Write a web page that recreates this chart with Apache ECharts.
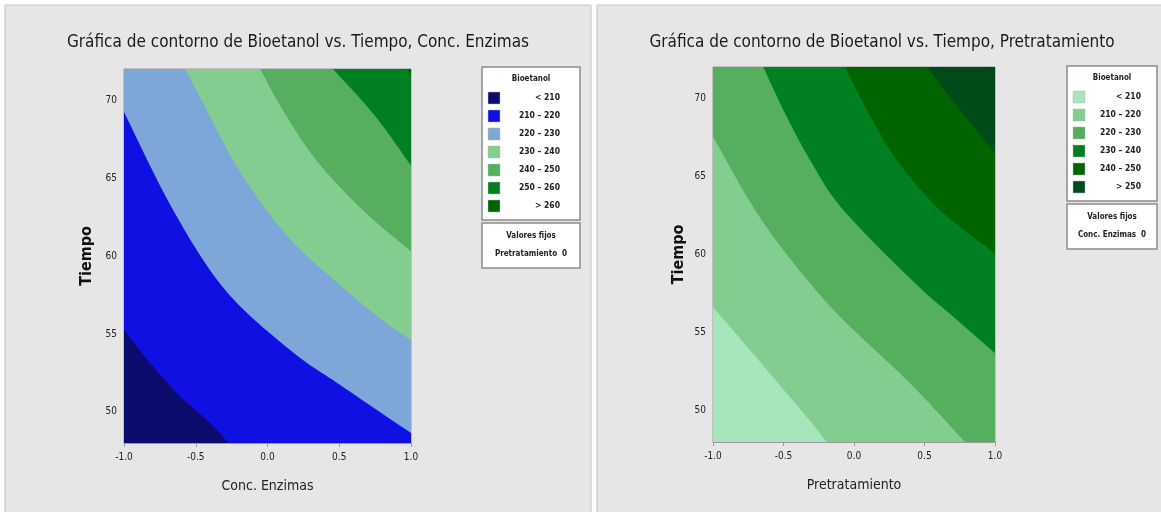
<!DOCTYPE html>
<html>
<head>
<meta charset="utf-8">
<script src="https://cdn.jsdelivr.net/npm/echarts@6/dist/echarts.min.js"></script>
<style>
  html, body { margin: 0; padding: 0; background: #ffffff; }
  #chart { width: 1161px; height: 512px; }
</style>
</head>
<body>
<div id="chart"></div>
<script>
// Contour plots of Bioetanol: response bands bounded by contour lines (x, Tiempo)
const titles = [
  'Gráfica de contorno de Bioetanol vs. Tiempo, Conc. Enzimas',
  'Gráfica de contorno de Bioetanol vs. Tiempo, Pretratamiento'
];
const xNames = ['Conc. Enzimas', 'Pretratamiento'];
const yName = 'Tiempo';
const xTicks = [-1, -0.5, 0, 0.5, 1];
const yTicks = [50, 55, 60, 65, 70];
const xRange = [-1, 1];
const yRange = [48, 72];

// Left panel: contour lines 210 … 260 (Pretratamiento held at 0)
const leftLevels = ['< 210', '210 – 220', '220 – 230', '230 – 240', '240 – 250', '250 – 260', '> 260'];
const left210 = [[-1, 55.25], [-0.853, 53.52], [-0.633, 51.21], [-0.4, 49.29], [-0.272, 48]];
const left220 = [[-1, 69.24], [-0.658, 62.95], [-0.295, 57.82], [0.158, 53.96], [0.507, 51.72], [1, 48.64]];
const left230 = [[-0.574, 72], [-0.42, 69.3], [-0.237, 66.1], [-0.005, 62.9], [0.275, 60.0], [0.763, 56.15], [1, 54.6]];
const left240 = [[-0.051, 72], [0.111, 69.3], [0.344, 66.1], [0.669, 62.9], [1, 60.3]];
const left250 = [[0.456, 72], [0.744, 69.05], [1, 65.8]];
const left260 = [[0.97, 72], [1, 71.6]];
const leftFixed = ['Valores fijos', 'Pretratamiento  0'];

// Right panel: contour lines 210 … 250 (Conc. Enzimas held at 0)
const rightLevels = ['< 210', '210 – 220', '220 – 230', '230 – 240', '240 – 250', '> 250'];
const right210 = [[-1, 56.64], [-0.736, 53.87], [-0.535, 51.73], [-0.334, 49.59], [-0.193, 48]];
const right220 = [[-1, 67.54], [-0.702, 62.85], [-0.418, 59.33], [-0.099, 56.02], [0.397, 51.76], [0.787, 48]];
const right230 = [[-0.643, 72], [-0.501, 69.25], [-0.312, 66.05], [-0.076, 62.85], [0.433, 58.16], [0.704, 56.02], [1, 53.68]];
const right240 = [[-0.063, 72], [0.091, 69.25], [0.303, 66.04], [0.61, 62.84], [1, 60.06]];
const right250 = [[0.516, 72], [0.73, 69.5], [1, 66.47]];
const rightFixed = ['Valores fijos', 'Conc. Enzimas  0'];

const leftColors = ['#0b0b6e', '#1010e2', '#7da7d9', '#82cd8f', '#55af5f', '#008021', '#006400'];
const rightColors = ['#a8e5bd', '#82cd8f', '#55af5f', '#008021', '#006400', '#004b19'];

const panels = [
  { lines: [left210, left220, left230, left240, left250, left260], colors: leftColors, levels: leftLevels, fixed: leftFixed,
    grid: { left: 124, top: 69, width: 287, height: 374 }, box: [5, 5, 586, 520], legend: [482, 67, 98, 20], nameGap: 29 },
  { lines: [right210, right220, right230, right240, right250], colors: rightColors, levels: rightLevels, fixed: rightFixed,
    grid: { left: 713, top: 67, width: 282, height: 375 }, box: [597, 5, 570, 520], legend: [1067, 66, 90, 16], nameGap: 26 }
];

// Smooth a contour line (already in pixels) with a Catmull-Rom spline
function smoothPixels(pts) {
  if (pts.length < 3) return pts;
  const out = [];
  for (let i = 0; i < pts.length - 1; i++) {
    const p0 = pts[Math.max(i - 1, 0)], p1 = pts[i], p2 = pts[i + 1], p3 = pts[Math.min(i + 2, pts.length - 1)];
    const steps = 14;
    for (let s = 0; s < steps; s++) {
      const t = s / steps, t2 = t * t, t3 = t2 * t;
      out.push([0, 1].map(d => 0.5 * ((2 * p1[d]) + (-p0[d] + p2[d]) * t +
        (2 * p0[d] - 5 * p1[d] + 4 * p2[d] - p3[d]) * t2 + (-p0[d] + 3 * p1[d] - 3 * p2[d] + p3[d]) * t3)));
    }
  }
  out.push(pts[pts.length - 1]);
  return out;
}

// Corners that close the high side (upper right) of a contour line along the plot frame
function closingCorners(line) {
  const first = line[0], last = line[line.length - 1];
  const c = [];
  if (last[1] <= yRange[0] + 1e-9) c.push([xRange[1], yRange[0]]);
  c.push([xRange[1], yRange[1]]);
  if (first[0] <= xRange[0] + 1e-9) c.push([xRange[0], yRange[1]]);
  return c;
}

function bandShape(panel, idx, api) {
  if (idx === 0) {
    return [[xRange[0], yRange[0]], [xRange[1], yRange[0]], [xRange[1], yRange[1]], [xRange[0], yRange[1]]].map(pt => api.coord(pt));
  }
  const line = panel.lines[idx - 1];
  return smoothPixels(line.map(pt => api.coord(pt))).concat(closingCorners(line).map(pt => api.coord(pt)));
}

const font = '"Liberation Sans Narrow", "DejaVu Sans Condensed", sans-serif';
const grids = [], xAxes = [], yAxes = [], series = [], graphics = [];

panels.forEach((p, k) => {
  grids.push(Object.assign({ show: true, borderColor: '#9a9a9a', borderWidth: 1, backgroundColor: 'transparent' }, p.grid));
  xAxes.push({
    gridIndex: k, type: 'value', min: xRange[0], max: xRange[1], interval: 0.5,
    name: xNames[k], nameLocation: 'middle', nameGap: 36,
    nameTextStyle: { fontFamily: font, fontSize: 14, color: '#222' },
    axisLine: { show: true, lineStyle: { color: '#9a9a9a' } },
    axisTick: { show: true, length: 4, lineStyle: { color: '#9a9a9a' }, customValues: xTicks },
    axisLabel: { fontFamily: font, fontSize: 10, color: '#222', margin: 9, customValues: xTicks,
      formatter: v => v.toFixed(1) },
    splitLine: { show: false }
  });
  yAxes.push({
    gridIndex: k, type: 'value', min: yRange[0], max: yRange[1],
    name: yName, nameLocation: 'middle', nameGap: p.nameGap,
    nameTextStyle: { fontFamily: font, fontSize: 16, color: '#111', fontWeight: 'bold' },
    axisLine: { show: true, lineStyle: { color: '#9a9a9a' } },
    axisTick: { show: true, length: 4, lineStyle: { color: '#9a9a9a' }, customValues: yTicks },
    axisLabel: { fontFamily: font, fontSize: 10, color: '#222', margin: 7, customValues: yTicks },
    splitLine: { show: false }
  });
  series.push({
    type: 'custom', xAxisIndex: k, yAxisIndex: k, silent: true, clip: true,
    data: p.colors.map((c, i) => i),
    renderItem: (params, api) => ({
      type: 'polygon',
      shape: { points: bandShape(p, params.dataIndex, api) },
      style: { fill: p.colors[params.dataIndex], stroke: null }
    })
  });

  // panel frame and title
  const [bx, by, bw, bh] = p.box;
  graphics.push({ type: 'rect', z: -100, shape: { x: bx, y: by, width: bw, height: bh },
    style: { fill: '#e6e6e6', stroke: '#c4c4c4', lineWidth: 1 } });
  graphics.push({ type: 'text', z: 10, x: bx + bw / 2, y: 43,
    style: { text: titles[k], fontFamily: font, fontSize: 17, fill: '#1a1a1a', align: 'center', verticalAlign: 'middle' } });

  // legend: level key and fixed-value note
  const [lx, ly, lw, pad] = p.legend;
  const rowH = 18;
  const keyH = 45 + (p.levels.length - 1) * rowH;
  graphics.push({ type: 'rect', z: 10, shape: { x: lx, y: ly, width: lw, height: keyH },
    style: { fill: '#ffffff', stroke: '#8c8c8c', lineWidth: 1.5 } });
  graphics.push({ type: 'text', z: 11, x: lx + lw / 2, y: ly + 12,
    style: { text: 'Bioetanol', fontFamily: font, fontSize: 8, fontWeight: 'bold', fill: '#222', align: 'center', verticalAlign: 'middle' } });
  p.levels.forEach((lab, i) => {
    const cy = ly + 31 + i * rowH;
    graphics.push({ type: 'rect', z: 11, shape: { x: lx + 6, y: cy - 6, width: 12, height: 12 },
      style: { fill: p.colors[i], stroke: '#bbbbbb', lineWidth: 0.5 } });
    graphics.push({ type: 'text', z: 11, x: lx + lw - pad, y: cy,
      style: { text: lab, fontFamily: font, fontSize: 8.5, fontWeight: 'bold', fill: '#222', align: 'right', verticalAlign: 'middle' } });
  });
  const fy = ly + keyH + 3;
  graphics.push({ type: 'rect', z: 10, shape: { x: lx, y: fy, width: lw, height: 45 },
    style: { fill: '#ffffff', stroke: '#8c8c8c', lineWidth: 1.5 } });
  p.fixed.forEach((t, i) => {
    graphics.push({ type: 'text', z: 11, x: lx + lw / 2, y: fy + 13 + i * 18,
      style: { text: t, fontFamily: font, fontSize: 8, fontWeight: 'bold', fill: '#222', align: 'center', verticalAlign: 'middle' } });
  });
});

const chart = echarts.init(document.getElementById('chart'), null, { renderer: 'canvas' });
chart.setOption({
  backgroundColor: '#ffffff',
  animation: false,
  grid: grids, xAxis: xAxes, yAxis: yAxes, series: series,
  graphic: graphics
});
</script>
</body>
</html>
